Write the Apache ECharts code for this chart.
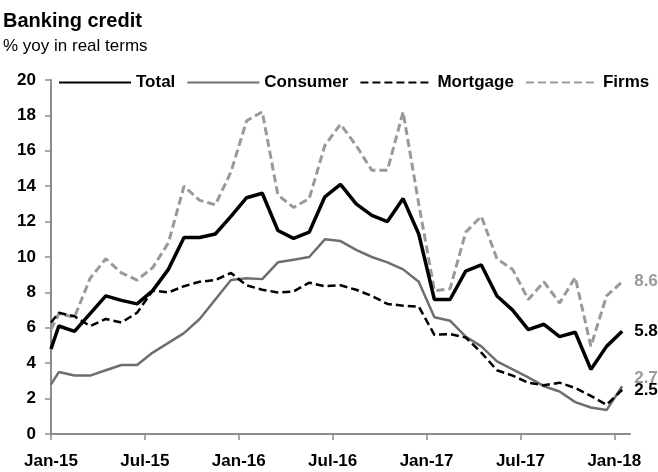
<!DOCTYPE html>
<html>
<head>
<meta charset="utf-8">
<script src="https://cdn.jsdelivr.net/npm/echarts@6/dist/echarts.min.js"></script>
<style>
  html, body { margin: 0; padding: 0; background: #fff; }
  #main { width: 658px; height: 472px; }
</style>
</head>
<body>
<div id="main"></div>
<script>
// month of each observation; first point sits on the Jan-15 tick, the rest mid-month
var months = ['start',
  'Jan-15','Feb-15','Mar-15','Apr-15','May-15','Jun-15','Jul-15','Aug-15','Sep-15','Oct-15','Nov-15','Dec-15',
  'Jan-16','Feb-16','Mar-16','Apr-16','May-16','Jun-16','Jul-16','Aug-16','Sep-16','Oct-16','Nov-16','Dec-16',
  'Jan-17','Feb-17','Mar-17','Apr-17','May-17','Jun-17','Jul-17','Aug-17','Sep-17','Oct-17','Nov-17','Dec-17',
  'Jan-18'];
var tickLabels = ['Jan-15','Jul-15','Jan-16','Jul-16','Jan-17','Jul-17','Jan-18'];

var total = [4.8,
  6.1, 5.8, 6.8, 7.8, 7.55, 7.35, 8.1, 9.3, 11.1, 11.1, 11.3, 12.3,
  13.35, 13.6, 11.5, 11.05, 11.4, 13.4, 14.1, 13.0, 12.35, 12.0, 13.3, 11.3,
  7.6, 7.6, 9.2, 9.55, 7.8, 7.0, 5.9, 6.2, 5.5, 5.75, 3.65, 4.95,
  5.8];
var consumer = [2.8,
  3.5, 3.3, 3.3, 3.6, 3.9, 3.9, 4.6, 5.15, 5.7, 6.5, 7.6, 8.7,
  8.8, 8.75, 9.7, 9.85, 10.0, 11.0, 10.9, 10.4, 10.0, 9.7, 9.3, 8.6,
  6.6, 6.4, 5.5, 4.95, 4.1, 3.65, 3.2, 2.7, 2.4, 1.8, 1.5, 1.35,
  2.7];
var mortgage = [6.3,
  6.85, 6.65, 6.1, 6.5, 6.3, 6.85, 8.1, 8.0, 8.35, 8.6, 8.7, 9.1,
  8.4, 8.15, 8.0, 8.05, 8.55, 8.35, 8.4, 8.15, 7.8, 7.35, 7.25, 7.2,
  5.6, 5.65, 5.45, 4.6, 3.6, 3.3, 2.9, 2.75, 2.9, 2.6, 2.15, 1.65,
  2.5];
var firms = [5.9,
  6.8, 6.6, 8.8, 9.9, 9.1, 8.7, 9.4, 10.8, 14.0, 13.2, 12.95, 14.8,
  17.7, 18.2, 13.5, 12.8, 13.3, 16.3, 17.5, 16.3, 14.9, 14.9, 18.2, 13.0,
  8.1, 8.2, 11.4, 12.3, 9.9, 9.3, 7.6, 8.6, 7.4, 8.85, 4.95, 7.8,
  8.6];

var FONT = 'Liberation Sans, Arial, sans-serif';

function pairs(vals) {
  var out = [];
  for (var i = 0; i < vals.length; i++) {
    var pos = i == 0 ? 0 : i - 0.5; // months since Jan-15
    out.push([pos, vals[i]]);
  }
  return out;
}

function lineSeries(name, vals, color, width, dash, z, labelColor, labelOffset) {
  return {
    name: name,
    type: 'line',
    data: pairs(vals),
    symbol: 'none',
    showSymbol: false,
    z: z,
    lineStyle: { color: color, width: width, type: dash },
    itemStyle: { color: color },
    emphasis: { disabled: true },
    endLabel: {
      show: true,
      distance: 12,
      offset: labelOffset,
      color: labelColor,
      fontFamily: FONT,
      fontWeight: 'bold',
      fontSize: 17,
      formatter: function(p) { return p.value[1].toFixed(1); }
    }
  };
}

var chart = echarts.init(document.getElementById('main'), null, { renderer: 'canvas' });
var tickVals = [0, 6, 12, 18, 24, 30, 36];

chart.setOption({
  animation: false,
  title: [{
    text: 'Banking credit',
    left: 3, top: 11, padding: 0,
    textStyle: { fontFamily: FONT, fontWeight: 'bold', fontSize: 20, color: '#000' }
  }, {
    text: '% yoy in real terms',
    left: 3, top: 38, padding: 0,
    textStyle: { fontFamily: FONT, fontWeight: 'normal', fontSize: 17, color: '#000' }
  }],
  legend: {
    left: 53, top: 69,
    itemWidth: 72, itemHeight: 16, itemGap: 11,
    itemStyle: { opacity: 0 },
    textStyle: { fontFamily: FONT, fontWeight: 'bold', fontSize: 17, color: '#000' },
    data: ['Total', 'Consumer', 'Mortgage', 'Firms']
  },
  grid: { left: 51, right: 28, top: 80, bottom: 38 },
  xAxis: {
    type: 'value',
    min: 0, max: 37, interval: 6,
    splitLine: { show: false },
    axisLine: { lineStyle: { color: '#8c8c8c', width: 2 } },
    axisTick: { show: true, length: 6, customValues: tickVals, lineStyle: { color: '#8c8c8c', width: 1.5 } },
    axisLabel: {
      customValues: tickVals,
      margin: 19,
      color: '#000', fontFamily: FONT, fontWeight: 'bold', fontSize: 17,
      formatter: function(v) { return tickLabels[Math.round(v / 6)] || ''; }
    }
  },
  yAxis: {
    type: 'value',
    min: 0, max: 20, interval: 2,
    splitLine: { show: false },
    axisLine: { show: true, lineStyle: { color: '#8c8c8c', width: 2 } },
    axisTick: { show: true, length: 6, lineStyle: { color: '#8c8c8c', width: 1.5 } },
    axisLabel: { margin: 15, color: '#000', fontFamily: FONT, fontWeight: 'bold', fontSize: 17 }
  },
  series: [
    lineSeries('Total', total, '#000000', 3.5, 'solid', 5, '#000000', [0, 0]),
    lineSeries('Consumer', consumer, '#6e6e6e', 2.5, 'solid', 3, '#9a9a9a', [0, -8]),
    lineSeries('Mortgage', mortgage, '#000000', 2.5, [8, 4], 4, '#000000', [0, 1]),
    lineSeries('Firms', firms, '#999999', 3, [8, 4], 2, '#999999', [0, 0])
  ]
});
</script>
</body>
</html>
